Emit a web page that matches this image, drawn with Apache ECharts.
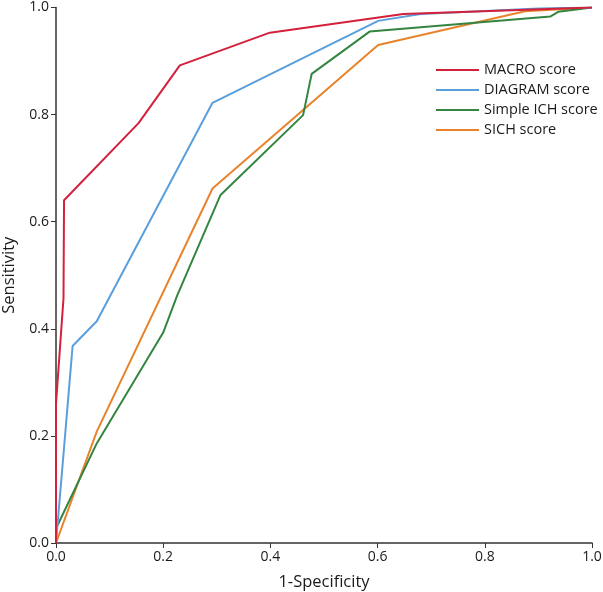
<!DOCTYPE html>
<html>
<head>
<meta charset="utf-8">
<script src="https://cdn.jsdelivr.net/npm/echarts@6/dist/echarts.min.js"></script>
<style>html,body{margin:0;padding:0;background:#fff;overflow:hidden}#c{width:623px;height:592px}</style>
</head>
<body>
<div id="c"></div>
<script>
const seriesNames = ['MACRO score', 'DIAGRAM score', 'Simple ICH score', 'SICH score'];
const macro = [[0,0],[0,0.26],[0.014,0.457],[0.015,0.64],[0.154,0.784],[0.231,0.892],[0.399,0.953],[0.648,0.988],[1,1]];
const diagram = [[0,0],[0.031,0.368],[0.076,0.414],[0.292,0.822],[0.601,0.975],[0.68,0.988],[0.9,0.998],[1,1]];
const simpleIch = [[0,0],[0,0.027],[0.076,0.186],[0.2,0.393],[0.226,0.462],[0.307,0.65],[0.461,0.799],[0.477,0.876],[0.585,0.955],[0.922,0.983],[0.937,0.992],[1,1]];
const sich = [[0,0],[0.076,0.208],[0.292,0.662],[0.601,0.93],[0.875,0.993],[1,1]];
const tickLabels = ['0.0', '0.2', '0.4', '0.6', '0.8', '1.0'];
const colors = ['#d4213b', '#5a9fdc', '#33853f', '#e8832c'];

const font = 'Open Sans';
const chart = echarts.init(document.getElementById('c'));
const allData = [macro, diagram, simpleIch, sich];
function fmt(v, i) { return tickLabels[i] !== undefined ? tickLabels[i] : ''; }
chart.setOption({
  animation: false,
  grid: {left: 56, right: 31, top: 7.5, bottom: 49, containLabel: false, outerBoundsMode: 'none'},
  legend: {
    orient: 'vertical', left: 431, top: 55,
    itemWidth: 43, itemHeight: 2, itemGap: 0, icon: 'rect',
    textStyle: {fontFamily: font, fontSize: 14.5, color: '#1a1a1a', lineHeight: 20},
    data: seriesNames
  },
  xAxis: {
    type: 'value', min: 0, max: 1, interval: 0.2,
    name: '1-Specificity', nameLocation: 'middle', nameGap: 31,
    nameTextStyle: {fontFamily: font, fontSize: 16.5, color: '#1a1a1a'},
    axisLine: {show: true, lineStyle: {color: '#333', width: 1.5}},
    axisTick: {show: true, length: 5, lineStyle: {color: '#333'}},
    axisLabel: {fontFamily: font, fontSize: 14, color: '#1a1a1a', margin: 7, formatter: fmt},
    splitLine: {show: false}
  },
  yAxis: {
    type: 'value', min: 0, max: 1, interval: 0.2,
    name: 'Sensitivity', nameLocation: 'middle', nameGap: 38,
    nameTextStyle: {fontFamily: font, fontSize: 16.5, color: '#1a1a1a'},
    axisLine: {show: true, lineStyle: {color: '#333', width: 1.5}},
    axisTick: {show: true, length: 5, lineStyle: {color: '#333'}},
    axisLabel: {fontFamily: font, fontSize: 14, color: '#1a1a1a', margin: 7, formatter: fmt},
    splitLine: {show: false}
  },
  series: seriesNames.map((n, i) => ({
    name: n, type: 'line', data: allData[i], showSymbol: false, symbol: 'none',
    lineStyle: {color: colors[i], width: 2}, itemStyle: {color: colors[i]},
    z: 10 - i
  }))
});
</script>
</body>
</html>
